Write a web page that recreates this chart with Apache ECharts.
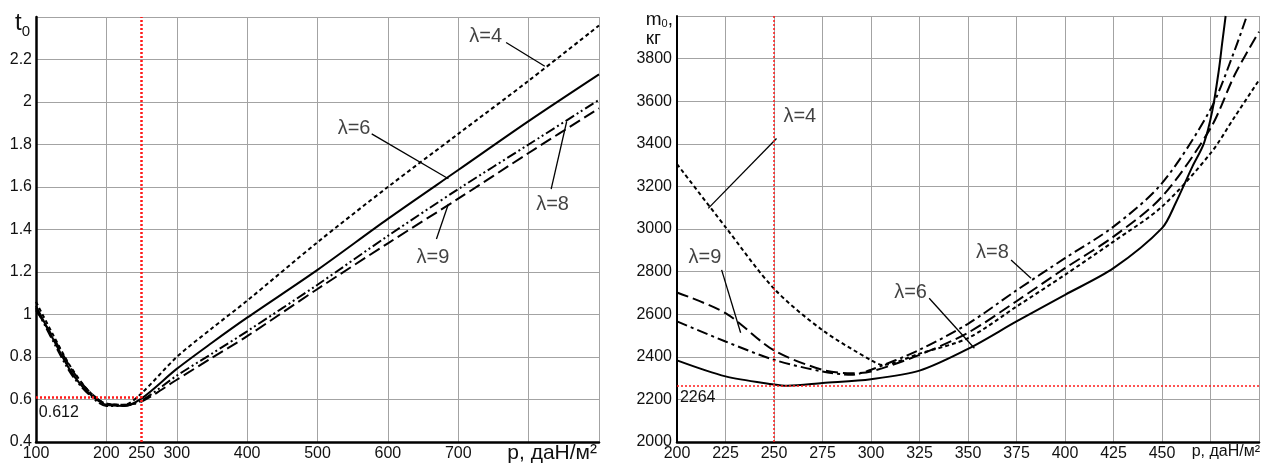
<!DOCTYPE html>
<html>
<head>
<meta charset="utf-8">
<script src="https://cdn.jsdelivr.net/npm/echarts@6/dist/echarts.min.js"></script>
<style>
  html, body { margin: 0; padding: 0; background: #fff; }
  #chart { width: 1263px; height: 464px; }
</style>
</head>
<body>
<div id="chart"></div>
<script>
// ---- left chart: t0 vs p ----
const pLeft = [100, 125, 150, 175, 200, 225, 250, 300, 350, 400, 500, 600, 700, 800, 900]
const tLam4 = [1.06, 0.90, 0.75, 0.64, 0.58, 0.575, 0.63, 0.80, 0.935, 1.065, 1.34, 1.60, 1.85, 2.10, 2.36]
const tLam6 = [1.04, 0.88, 0.73, 0.63, 0.575, 0.57, 0.605, 0.744, 0.867, 0.985, 1.21, 1.45, 1.68, 1.91, 2.13]
const tLam8 = [1.03, 0.87, 0.72, 0.625, 0.57, 0.57, 0.595, 0.712, 0.816, 0.921, 1.14, 1.37, 1.59, 1.80, 2.01]
const tLam9 = [1.02, 0.89, 0.745, 0.64, 0.58, 0.575, 0.59, 0.693, 0.796, 0.898, 1.12, 1.335, 1.545, 1.76, 1.97]
const leftTickLabels = [100, 200, 250, 300, 400, 500, 600, 700]
const tOpt = 0.612

// ---- right chart: m0 vs p ----
const pRight4 = [200, 225, 250, 275, 300, 306, 325, 350, 375, 400, 425, 450, 475, 487.5, 500]
const mLam4 = [3305, 3009, 2720, 2525, 2384, 2362, 2415, 2488, 2636, 2785, 2941, 3105, 3355, 3527, 3699]
const pRight6 = [200, 225, 250, 257, 275, 300, 325, 350, 375, 400, 425, 450, 457, 465.6, 471.6, 476, 479.3, 481, 482.8]
const mLam6 = [2383, 2308, 2270, 2264, 2277, 2295, 2335, 2437, 2566, 2691, 2816, 3004, 3121, 3292, 3402, 3558, 3746, 3871, 4000]
const pRight8 = [200, 225, 250, 275, 290, 300, 325, 350, 375, 400, 425, 450, 475, 487.5, 493.7]
const mLam8 = [2566, 2472, 2386, 2331, 2316, 2339, 2433, 2555, 2712, 2863, 3011, 3215, 3562, 3840, 4000]
const pRight9 = [200, 225, 250, 275, 290, 300, 325, 350, 375, 400, 425, 450, 475, 487.5, 500]
const mLam9 = [2702, 2605, 2430, 2339, 2323, 2331, 2409, 2513, 2661, 2816, 2964, 3152, 3473, 3724, 3926]
const mOpt = 2264
const pMark = 250

// annotation placement (data coords): label centre, leader start, leader end
const notesLeft = [
  { text: 'λ=4', at: [739, 2.31], from: [768, 2.28], to: [823, 2.168] },
  { text: 'λ=6', at: [552, 1.875], from: [577, 1.85], to: [686, 1.639] },
  { text: 'λ=8', at: [834, 1.516], from: [832, 1.59], to: [854, 1.907] },
  { text: 'λ=9', at: [664, 1.27], from: [669, 1.355], to: [686, 1.52] }
]
const notesRight = [
  { text: 'λ=4', at: [263.3, 3527], from: [251.3, 3425], to: [216.1, 3097] },
  { text: 'λ=9', at: [214.4, 2864], from: [223, 2808], to: [232.8, 2513] },
  { text: 'λ=6', at: [320.4, 2704], from: [330, 2675], to: [353.3, 2440] },
  { text: 'λ=8', at: [362.6, 2892], from: [372.2, 2854], to: [382.5, 2769] }
]

const FONT = 'Liberation Sans, Arial, sans-serif'
const INK = '#111'
const GRIDC = '#a3a3a3'

const dashShort = [4, 3]
const dashLong = [12, 5]
const dashDotDot = [10, 3, 2, 3, 2, 3]
const dashDot = [11, 4, 3, 4]

function zip(xs, ys) {
  return xs.map((x, i) => [x, ys[i]])
}

function curve(name, xs, ys, dash, idx, extra) {
  return Object.assign({
    name: name,
    type: 'line',
    xAxisIndex: idx,
    yAxisIndex: idx,
    data: zip(xs, ys),
    smooth: 0.3,
    showSymbol: false,
    symbol: 'none',
    silent: true,
    lineStyle: { color: '#000', width: 2, type: dash }
  }, extra || {})
}

function noteLines(notes) {
  return notes.map(n => [
    { coord: n.from, lineStyle: { color: '#000', width: 1.3, type: 'solid' } },
    { coord: n.to }
  ])
}

function noteSeries(notes, idx) {
  return {
    type: 'scatter',
    xAxisIndex: idx,
    yAxisIndex: idx,
    symbolSize: 0,
    silent: true,
    data: notes.map(n => [n.at[0], n.at[1], n.text]),
    label: {
      show: true,
      position: 'inside',
      formatter: p => p.value[2],
      fontFamily: FONT,
      fontSize: 20,
      color: INK
    }
  }
}

const redDot = { color: '#ff1a1a', width: 2.5, type: [2, 2] }

let chart = echarts.init(document.getElementById('chart'))

let option = {
  animation: false,
  backgroundColor: '#fff',
  grid: [
    { left: 36, top: 17, right: 664, bottom: 22 },
    { left: 677, top: 16, right: 4, bottom: 22 }
  ],
  xAxis: [
    {
      type: 'value', gridIndex: 0, min: 100, max: 900, interval: 100,
      axisLine: { lineStyle: { color: '#000', width: 2.5 } },
      axisTick: { show: false },
      splitLine: { lineStyle: { color: GRIDC, width: 1 } },
      axisLabel: {
        customValues: leftTickLabels,
        margin: 4, fontFamily: FONT, fontSize: 16, color: INK
      },
      name: 'p, даН/м²',
      nameLocation: 'end',
      nameGap: -2,
      nameTextStyle: { fontFamily: FONT, fontSize: 21, color: INK, align: 'right', verticalAlign: 'top', padding: [1, 0, 0, 0] }
    },
    {
      type: 'value', gridIndex: 1, min: 200, max: 500, interval: 25,
      axisLine: { lineStyle: { color: '#000', width: 2.5 } },
      axisTick: { show: false },
      splitLine: { lineStyle: { color: GRIDC, width: 1 } },
      axisLabel: {
        margin: 4, fontFamily: FONT, fontSize: 16, color: INK,
        formatter: v => (v > 450 ? '' : String(v))
      },
      name: 'p, даН/м²',
      nameLocation: 'end',
      nameGap: 1,
      nameTextStyle: { fontFamily: FONT, fontSize: 16, color: INK, align: 'right', verticalAlign: 'top', padding: [2, 0, 0, 0] }
    }
  ],
  yAxis: [
    {
      type: 'value', gridIndex: 0, min: 0.4, max: 2.4, interval: 0.2,
      axisLine: { show: true, lineStyle: { color: '#000', width: 2.5 } },
      axisTick: { show: false },
      splitLine: { lineStyle: { color: GRIDC, width: 1 } },
      axisLabel: {
        margin: 4, fontFamily: FONT, fontSize: 16, color: INK,
        formatter: v => (v > 2.3 ? '' : String(+v.toFixed(1)))
      },
      name: '{t|t}{s|0}',
      nameLocation: 'end',
      nameGap: 6,
      nameTextStyle: {
        align: 'right', verticalAlign: 'top', padding: [0, 6, 0, 0],
        rich: {
          t: { fontFamily: FONT, fontSize: 24, lineHeight: 28, color: INK, verticalAlign: 'top' },
          s: { fontFamily: FONT, fontSize: 15, lineHeight: 15, color: INK, verticalAlign: 'bottom' }
        }
      }
    },
    {
      type: 'value', gridIndex: 1, min: 2000, max: 4000, interval: 200,
      axisLine: { show: true, lineStyle: { color: '#000', width: 2 } },
      axisTick: { show: false },
      splitLine: { lineStyle: { color: GRIDC, width: 1 } },
      axisLabel: {
        margin: 5, fontFamily: FONT, fontSize: 16, color: INK,
        formatter: v => (v >= 4000 ? '' : String(v))
      },
      name: '{m|m}{s|0}{m|,}\n{k|кг}',
      nameLocation: 'end',
      nameGap: 6,
      nameTextStyle: {
        align: 'right', verticalAlign: 'top', padding: [0, 4, 0, 0],
        rich: {
          m: { fontFamily: FONT, fontSize: 19, lineHeight: 19, color: INK, align: 'left', verticalAlign: 'top' },
          s: { fontFamily: FONT, fontSize: 11, lineHeight: 11, color: INK, align: 'left', verticalAlign: 'bottom' },
          k: { fontFamily: FONT, fontSize: 19, lineHeight: 19, color: INK, align: 'left' }
        }
      }
    }
  ],
  series: [
    curve('λ=4', pLeft, tLam4, dashShort, 0, {
      markLine: {
        silent: true, symbol: 'none', label: { show: false },
        data: noteLines(notesLeft)
      }
    }),
    curve('λ=6', pLeft, tLam6, 'solid', 0, {
      markLine: {
        silent: true, symbol: 'none', label: { show: false }, lineStyle: redDot,
        data: [
          { xAxis: pMark },
          [{ coord: [100, tOpt] }, { coord: [pMark, tOpt] }]
        ]
      },
      markPoint: {
        silent: true, symbol: 'circle', symbolSize: 0,
        data: [{ coord: [104, tOpt], value: String(tOpt) }],
        label: {
          show: true, position: 'inside', align: 'left', verticalAlign: 'top',
          offset: [0, 8], fontFamily: FONT, fontSize: 16, color: INK,
          formatter: p => p.value
        }
      }
    }),
    curve('λ=8', pLeft, tLam8, dashDotDot, 0),
    curve('λ=9', pLeft, tLam9, dashLong, 0),
    noteSeries(notesLeft, 0),

    curve('λ=4', pRight4, mLam4, dashShort, 1, {
      markLine: {
        silent: true, symbol: 'none', label: { show: false },
        data: noteLines(notesRight)
      }
    }),
    curve('λ=6', pRight6, mLam6, 'solid', 1, {
      markLine: {
        silent: true, symbol: 'none', label: { show: false },
        lineStyle: { color: '#ff1a1a', width: 1.5, type: [2, 2] },
        data: [{ xAxis: pMark }, { yAxis: mOpt }]
      },
      markPoint: {
        silent: true, symbol: 'circle', symbolSize: 0,
        data: [{ coord: [201.5, mOpt], value: String(mOpt) }],
        label: {
          show: true, position: 'inside', align: 'left', verticalAlign: 'top',
          offset: [0, 4], fontFamily: FONT, fontSize: 16, color: INK,
          formatter: p => p.value
        }
      }
    }),
    curve('λ=8', pRight8, mLam8, dashDot, 1),
    curve('λ=9', pRight9, mLam9, dashLong, 1),
    noteSeries(notesRight, 1)
  ]
}

chart.setOption(option)
</script>
</body>
</html>
